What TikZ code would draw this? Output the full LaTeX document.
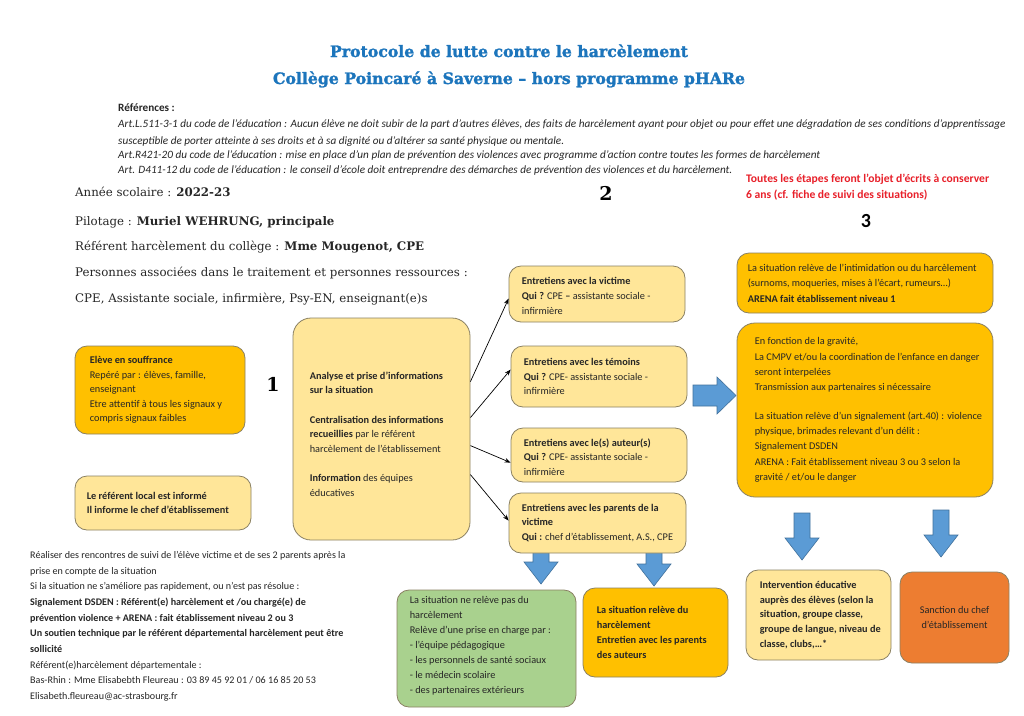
\documentclass[tikz,border=0pt]{standalone}
\usepackage{fontspec}
\setmainfont{Carlito}
\newfontfamily\bkfont{DejaVu Serif}
\newfontfamily\titlefont[BoldFeatures={FakeBold=1.6}]{DejaVu Serif}
\usetikzlibrary{arrows.meta}
\definecolor{gold}{HTML}{FFC000}
\definecolor{lightgold}{HTML}{FFE699}
\definecolor{leaf}{HTML}{A9D18E}
\definecolor{orng}{HTML}{ED7D31}
\definecolor{edgecol}{HTML}{8A8163}
\definecolor{bluefill}{HTML}{5B9BD5}
\definecolor{blueedge}{HTML}{41719C}
\definecolor{titleblue}{HTML}{1C75BC}
\definecolor{redtxt}{HTML}{E8202A}
\definecolor{txtcol}{HTML}{262626}
\newcommand{\myDownArrow}[3]{%
  \draw[bigarrow] ({#1-8},#2) -- ({#1+8},#2) -- ({#1+8},{#3-22}) -- ({#1+17},{#3-22})
     -- (#1,#3) -- ({#1-17},{#3-22}) -- ({#1-8},{#3-22}) -- cycle;}
\begin{document}
\begin{tikzpicture}[x=1pt,y=-1pt,
  box/.style={draw=edgecol, line width=0.8pt, rounded corners=12pt, inner sep=0pt},
  boxtext/.style={anchor=west, align=left, inner sep=0pt, text=txtcol,
     font=\fontsize{10.3}{14.6}\selectfont},
  bigarrow/.style={fill=bluefill, draw=blueedge, line width=0.6pt, line join=miter},
  conn/.style={draw=black, line width=0.7pt, -{Stealth[length=6pt,width=4.5pt]}},
  bktext/.style={anchor=base west, inner sep=0pt, text=txtcol, font=\bkfont\fontsize{11.8}{13}\selectfont},
  reftext/.style={anchor=base west, inner sep=0pt, text=txtcol, font=\itshape\fontsize{11.2}{12}\selectfont},
  bignum/.style={inner sep=0pt, font=\bkfont\bfseries\fontsize{19}{20}\selectfont},
  titletext/.style={anchor=base, inner sep=0pt, text=titleblue, font=\titlefont\bfseries\fontsize{15.7}{17}\selectfont}
]
\useasboundingbox (0,0) rectangle (1024,715);
\fill[white] (0,0) rectangle (1024,715);

% title
\node[titletext] (t1) at (509,57) {Protocole de lutte contre le harcèlement};
\node[titletext] (t2) at (509,84) {Collège Poincaré à Saverne – hors programme pHARe};

% references
\node[anchor=base west, inner sep=0pt, text=txtcol, font=\bfseries\fontsize{11.2}{12}\selectfont] (r0) at (118,111) {Références :};
\node[reftext] (r1) at (118,127) {Art.L.511-3-1 du code de l’éducation : Aucun élève ne doit subir de la part d’autres élèves, des faits de harcèlement ayant pour objet ou pour effet une dégradation de ses conditions d’apprentissage};
\node[reftext] (r2) at (118,144) {susceptible de porter atteinte à ses droits et à sa dignité ou d’altérer sa santé physique ou mentale.};
\node[reftext] (r3) at (118,158) {Art.R421-20 du code de l’éducation : mise en place d’un plan de prévention des violences avec programme d’action contre toutes les formes de harcèlement};
\node[reftext] (r4) at (118,173) {Art. D411-12 du code de l’éducation : le conseil d’école doit entreprendre des démarches de prévention des violences et du harcèlement.};

% left info
\node[bktext] (l1) at (75,196) {Année scolaire : \textbf{2022-23}};
\node[bktext] (l2) at (75,225) {Pilotage : \textbf{Muriel WEHRUNG, principale}};
\node[bktext] (l3) at (75,250) {Référent harcèlement du collège : \textbf{Mme Mougenot, CPE}};
\node[bktext] (l4) at (75,276) {Personnes associées dans le traitement et personnes ressources :};
\node[bktext] (l5) at (75,302) {CPE, Assistante sociale, infirmière, Psy-EN, enseignant(e)s};

% red note
\node[anchor=north west, inner sep=0pt, text=redtxt, align=left, font=\bfseries\fontsize{11.6}{16}\selectfont] (red) at (746,174) {Toutes les étapes feront l’objet d’écrits à conserver\\6 ans (cf. fiche de suivi des situations)};

% numbers
\node[bignum] (n1) at (273,384) {1};
\node[bignum] (n2) at (606,193) {2};
\node[inner sep=0pt, font=\bfseries\fontsize{20}{20}\selectfont] (n3) at (866,221) {3};

% big blue arrows (drawn first, under boxes)
\draw[bigarrow] (693,385) -- (717,385) -- (717,377) -- (736,395.5) -- (717,414) -- (717,406) -- (693,406) -- cycle;
\myDownArrow{802}{513}{560}
\myDownArrow{941}{510}{557}
\myDownArrow{541}{549}{584}
\myDownArrow{654}{549}{586}

% boxes
\node[box, fill=gold, minimum width=170pt, minimum height=88pt] (A) at (160,390) {};
\node[boxtext] (At) at ([xshift=15pt]A.west) {\textbf{Elève en souffrance}\\Repéré par : élèves, famille,\\enseignant\\Etre attentif à tous les signaux y\\compris signaux faibles};

\node[box, fill=lightgold, minimum width=176pt, minimum height=54pt] (B) at (163,503) {};
\node[boxtext] (Bt) at ([xshift=12pt]B.west) {\textbf{Le référent local est informé}\\\textbf{Il informe le chef d’établissement}};

\node[box, fill=lightgold, rounded corners=18pt, minimum width=177pt, minimum height=222pt] (C) at (381.5,429) {};
\node[boxtext] (Ct) at ([xshift=17pt,yshift=-5pt]C.west) {\textbf{Analyse et prise d’informations}\\\textbf{sur la situation}\\[14.6pt]\textbf{Centralisation des informations}\\\textbf{recueillies} par le référent\\harcèlement de l’établissement\\[14.6pt]\textbf{Information} des équipes\\éducatives};

\node[box, fill=lightgold, minimum width=176pt, minimum height=56pt] (D1) at (597,294) {};
\node[boxtext] (D1t) at ([xshift=13pt,yshift=-2pt]D1.west) {\textbf{Entretiens avec la victime}\\\textbf{Qui ?} CPE \textbf{–} assistante sociale -\\infirmière};

\node[box, fill=lightgold, minimum width=176pt, minimum height=61pt] (D2) at (599,376.5) {};
\node[boxtext] (D2t) at ([xshift=13pt]D2.west) {\textbf{Entretiens avec les témoins}\\\textbf{Qui ?} CPE- assistante sociale -\\infirmière};

\node[box, fill=lightgold, minimum width=176pt, minimum height=54pt] (D3) at (599,455) {};
\node[boxtext] (D3t) at ([xshift=13pt,yshift=-2pt]D3.west) {\textbf{Entretiens avec le(s) auteur(s)}\\\textbf{Qui ?} CPE- assistante sociale -\\infirmière};

\node[box, fill=lightgold, minimum width=177pt, minimum height=60pt] (D4) at (597.5,523) {};
\node[boxtext] (D4t) at ([xshift=13pt]D4.west) {\textbf{Entretiens avec les parents de la}\\\textbf{victime}\\\textbf{Qui :} chef d’établissement, A.S., CPE};

\node[box, fill=gold, minimum width=256pt, minimum height=60pt] (E) at (865,283) {};
\node[boxtext, font=\fontsize{10.3}{15.5}\selectfont] (Et) at ([xshift=11pt]E.west) {La situation relève de l’intimidation ou du harcèlement\\(surnoms, moqueries, mises à l’écart, rumeurs…)\\\textbf{ARENA fait établissement niveau 1}};

\node[box, fill=gold, rounded corners=18pt, minimum width=256pt, minimum height=174pt] (F) at (865,410) {};
\node[boxtext, font=\fontsize{10.3}{15.3}\selectfont] (Ft) at ([xshift=18pt]F.west) {En fonction de la gravité,\\La CMPV et/ou la coordination de l’enfance en danger\\seront interpelées\\Transmission aux partenaires si nécessaire\\[13pt]La situation relève d’un signalement (art.40) : violence\\physique, brimades relevant d’un délit :\\Signalement DSDEN\\ARENA : Fait établissement niveau 3 ou 3 selon la\\gravité / et/ou le danger};

\node[box, fill=lightgold, minimum width=145pt, minimum height=90pt] (G) at (818.5,615) {};
\node[boxtext, font=\bfseries\fontsize{10.3}{14.8}\selectfont] (Gt) at ([xshift=14pt]G.west) {Intervention éducative\\auprès des élèves (selon la\\situation, groupe classe,\\groupe de langue, niveau de\\classe, clubs,…*};

\node[box, fill=orng, minimum width=109pt, minimum height=91pt] (H) at (954.5,617.5) {};
\node[inner sep=0pt, align=center, text=txtcol, font=\fontsize{10.3}{15}\selectfont] (Ht) at (H.center) {Sanction du chef\\d’établissement};

\node[box, fill=leaf, minimum width=179pt, minimum height=117pt] (I) at (486.5,648.5) {};
\node[boxtext, font=\fontsize{10.3}{15}\selectfont] (It) at ([xshift=13pt,yshift=3pt]I.west) {La situation ne relève pas du\\harcèlement\\Relève d’une prise en charge par :\\- l’équipe pédagogique\\- les personnels de santé sociaux\\- le médecin scolaire\\- des partenaires extérieurs};

\node[box, fill=gold, minimum width=145pt, minimum height=89pt] (J) at (655.5,632.5) {};
\node[boxtext, font=\bfseries\fontsize{10.3}{14.8}\selectfont] (Jt) at ([xshift=14pt]J.west) {La situation relève du\\harcèlement\\Entretien avec les parents\\des auteurs};

% connectors
\draw[conn] ([yshift=-64pt]C.north east) -- ([yshift=-33pt]D1.north west);
\draw[conn] ([yshift=-100pt]C.north east) -- ([yshift=-24pt]D2.north west);
\draw[conn] ([yshift=-128pt]C.north east) -- ([yshift=-35pt]D3.north west);
\draw[conn] ([yshift=-157pt]C.north east) -- ([yshift=-28pt]D4.north west);

% bottom-left text
\node[anchor=north west, align=left, inner sep=0pt, text=txtcol, font=\fontsize{10.1}{15.7}\selectfont] (bl) at (30,551) {Réaliser des rencontres de suivi de l’élève victime et de ses 2 parents après la\\prise en compte de la situation\\Si la situation ne s’améliore pas rapidement, ou n’est pas résolue :\\\textbf{Signalement DSDEN : Référent(e) harcèlement et /ou chargé(e) de}\\\textbf{prévention violence + ARENA : fait établissement niveau 2 ou 3}\\\textbf{Un soutien technique par le référent départemental harcèlement peut être}\\\textbf{sollicité}\\Référent(e)harcèlement départementale :\\Bas-Rhin : Mme Elisabebth Fleureau : 03 89 45 92 01 / 06 16 85 20 53\\Elisabeth.fleureau@ac-strasbourg.fr};
\end{tikzpicture}
\end{document}
